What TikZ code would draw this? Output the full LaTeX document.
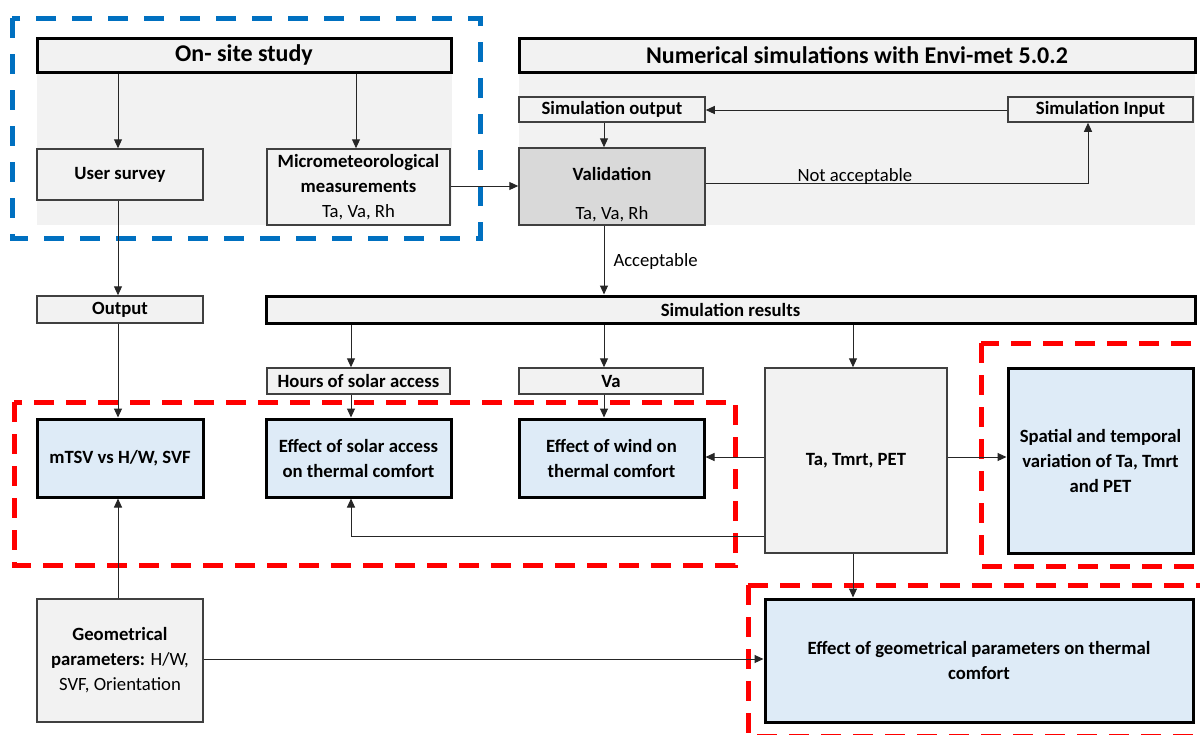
\documentclass[tikz,border=0pt]{standalone}
\usepackage{fontspec}
\setmainfont{Carlito}
\usetikzlibrary{arrows.meta,calc}
\definecolor{boxgray}{HTML}{F2F2F2}
\definecolor{panelgray}{HTML}{F2F2F2}
\definecolor{valgray}{HTML}{D9D9D9}
\definecolor{lblue}{HTML}{DEEBF7}
\definecolor{dblue}{HTML}{0070C0}
\definecolor{edge}{HTML}{404040}
\begin{document}
\begin{tikzpicture}[x=1pt,y=-1pt,
 base/.style={rectangle, inner sep=0pt, align=center, font=\fontsize{18.7}{25}\selectfont\bfseries, text=black},
 plain/.style={base, draw=edge, line width=1.5pt, fill=boxgray},
 heavy/.style={base, draw=black, line width=3pt, fill=boxgray, font=\fontsize{24}{28}\selectfont\bfseries},
 heavysmall/.style={base, draw=black, line width=3pt, fill=boxgray},
 result/.style={base, draw=black, line width=3pt, fill=lblue},
 arr/.style={draw=black!85, line width=1pt, -{Triangle[length=9pt,width=8pt]}},
 ln/.style={draw=black!85, line width=1pt},
 bluedash/.style={draw=dblue, line width=5pt, dash pattern=on 20pt off 16pt},
 reddash/.style={draw=red, line width=5pt, dash pattern=on 20pt off 12pt},
 lbl/.style={font=\fontsize{18.7}{22}\selectfont, inner sep=0pt},
 txt/.style={base, fill=none, draw=none},
]
\clip (0,0) rectangle (1200,734);
\fill[white] (0,0) rectangle (1200,734);
% panels
\fill[panelgray] (37,72) rectangle (452,225);
\fill[panelgray] (519,72) rectangle (1195,225);
% dashed groups
\draw[bluedash] (12,18) rectangle (480,238);
\draw[reddash] (14,402) rectangle (735,565);
\draw[reddash] (981,343) rectangle (1215,566);
\draw[reddash] (748,585) rectangle (1215,736);
% nodes
\node[heavy, minimum width=414pt, minimum height=34pt] (onsite) at (244,55) {On- site study};
\node[heavy, minimum width=676pt, minimum height=34pt] (numsim) at (857,55) {Numerical simulations with Envi-met 5.0.2};
\node[plain, minimum width=166pt, minimum height=51pt] (user) at (120,174.5) {User survey};
\node[plain, minimum width=183pt, minimum height=76pt] (micro) at (358.5,187) {Micrometeorological\\measurements\\\mdseries Ta, Va, Rh};
\node[plain, minimum width=186pt, minimum height=25pt] (simout) at (612,109.5) {Simulation output};
\node[plain, minimum width=185pt, minimum height=25pt] (simin) at (1100.5,109.5) {Simulation Input};
\node[plain, fill=valgray, minimum width=186pt, minimum height=77pt] (valid) at (612,186.5) {};
\node[txt] (validtxt) at (612,194.5) {Validation\\[14pt]\mdseries Ta, Va, Rh};
\node[plain, minimum width=166pt, minimum height=27pt] (output) at (120,309.5) {Output};
\node[heavysmall, minimum width=929pt, minimum height=27pt] (simres) at (730.5,309.5) {Simulation results};
\node[plain, minimum width=183pt, minimum height=26pt] (hours) at (358.5,381) {Hours of solar access};
\node[plain, minimum width=184pt, minimum height=26pt] (va) at (611,381) {Va};
\node[result, minimum width=166pt, minimum height=78pt] (mtsv) at (120,458) {mTSV vs H/W, SVF};
\node[result, minimum width=185pt, minimum height=78pt] (esolar) at (358.5,458) {Effect of solar access\\on thermal comfort};
\node[result, minimum width=185pt, minimum height=78pt] (ewind) at (611.5,458) {Effect of wind on\\thermal comfort};
\node[plain, minimum width=182pt, minimum height=185pt] (tapet) at (856,460.5) {Ta, Tmrt, PET};
\node[result, minimum width=185pt, minimum height=185pt] (spatial) at (1100.5,460.5) {Spatial and temporal\\variation of Ta, Tmrt\\and PET};
\node[plain, minimum width=166pt, minimum height=123pt] (geom) at (120,660.5) {Geometrical\\parameters: \mdseries H/W,\\\mdseries SVF, Orientation};
\node[result, minimum width=428pt, minimum height=123pt] (egeo) at (979,660.5) {Effect of geometrical parameters on thermal\\comfort};
% x positions for vertical connectors
\coordinate (xa) at (118,0);
\coordinate (xb) at (356,0);
\coordinate (xc) at (604,0);
\coordinate (xd) at (351,0);
\coordinate (xe) at (853,0);
\coordinate (xf) at (1088,0);
\coordinate (ya) at (0,457);
\coordinate (yb) at (0,536);
\coordinate (yc) at (0,659);
\coordinate (yd) at (0,186);
\coordinate (ye) at (0,183);
\coordinate (yf) at (0,110);
% connectors
\draw[arr] (onsite.south -| xa) -- (user.north -| xa);
\draw[arr] (onsite.south -| xb) -- (micro.north -| xb);
\draw[arr] (user.south -| xa) -- (output.north -| xa);
\draw[arr] (output.south -| xa) -- (mtsv.north -| xa);
\draw[arr] (geom.north -| xa) -- (mtsv.south -| xa);
\draw[arr] (micro.east |- yd) -- (valid.west |- yd);
\draw[arr] (simin.west |- yf) -- (simout.east |- yf);
\draw[arr] (simout.south -| xc) -- (valid.north -| xc);
\draw[arr] (valid.east |- ye) -- (xf |- ye) node[lbl, pos=0.39, above=0pt, yshift=-2pt] (notacc) {Not acceptable} -- (simin.south -| xf);
\draw[arr] (valid.south -| xc) -- node[lbl, right=9pt, yshift=-1pt] (acc) {Acceptable} (simres.north -| xc);
\draw[arr] (simres.south -| xd) -- (hours.north -| xd);
\draw[arr] (simres.south -| xc) -- (va.north -| xc);
\draw[arr] (simres.south -| xe) -- (tapet.north -| xe);
\draw[arr] (hours.south -| xd) -- (esolar.north -| xd);
\draw[arr] (va.south -| xc) -- (ewind.north -| xc);
\draw[arr] (tapet.west |- ya) -- (ewind.east |- ya);
\draw[arr] (tapet.west |- yb) -- (xd |- yb) -- (esolar.south -| xd);
\draw[arr] (tapet.east |- ya) -- (spatial.west |- ya);
\draw[arr] (tapet.south -| xe) -- (egeo.north -| xe);
\draw[arr] (geom.east |- yc) -- (egeo.west |- yc);
\end{tikzpicture}
\end{document}
